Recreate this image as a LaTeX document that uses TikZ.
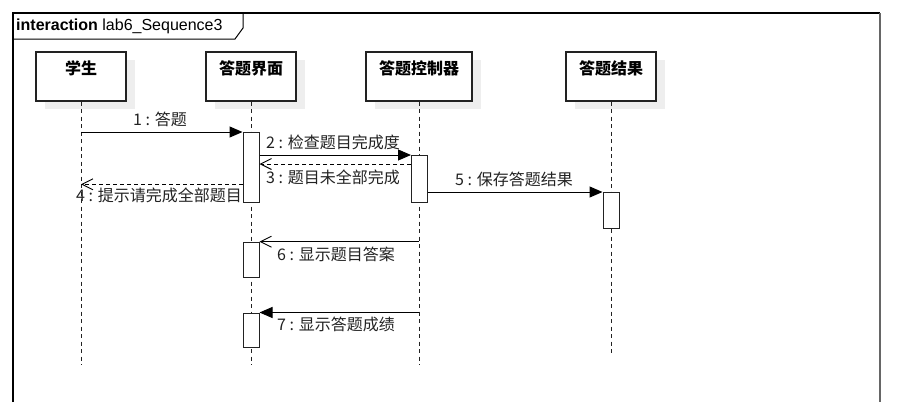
\documentclass[tikz,border=0pt]{standalone}
\usepackage{fontspec}
\newfontfamily\cjk{Noto Sans CJK SC}
\newfontfamily\arialf{Liberation Sans}
\usetikzlibrary{arrows.meta}
\definecolor{ink}{HTML}{222222}
\definecolor{shade}{HTML}{EEEEEE}
\definecolor{edge}{HTML}{666666}
\tikzset{
  lifebox/.style={draw=ink, line width=1.1pt, fill=white, minimum height=49pt, inner sep=0pt},
  shadowbox/.style={fill=shade, draw=none, minimum height=49pt, inner sep=0pt},
  headtext/.style={font=\cjk\bfseries\fontsize{16}{19}\selectfont, text=black, inner sep=0pt, anchor=center},
  lifeline/.style={draw=ink, line width=1pt, dash pattern=on 4pt off 3.5pt},
  actbox/.style={draw=ink, line width=1pt, fill=white, minimum width=16pt, inner sep=0pt, anchor=north},
  syncmsg/.style={draw=black, line width=1pt, -{Triangle[length=13pt,width=11pt]}},
  replymsg/.style={draw=black, line width=1pt, dash pattern=on 4pt off 3pt, -{Straight Barb[length=11pt,width=11pt,line width=0.9pt]}},
  openmsg/.style={draw=black, line width=1pt, -{Straight Barb[length=11pt,width=11pt,line width=0.9pt]}},
  msglabel/.style={font=\cjk\fontsize{16}{19}\selectfont, text=ink, inner sep=0pt, anchor=west},
}
\begin{document}
\begin{tikzpicture}[x=1pt,y=-1pt]
\useasboundingbox (0,0) rectangle (907,402);
% frame
\draw[black, line width=1.1pt] (13,402) -- (13,13) -- (880,13);
\draw[edge, line width=2.4pt] (880,13) -- (880,402);
\draw[black, line width=1pt] (13,13) -- (243,13) -- (243,28) -- (235,39) -- (13,39);
\node[font=\arialf\fontsize{16}{19}\selectfont, anchor=west, inner sep=0pt] (title) at (16,26) {\textbf{interaction} lab6\_Sequence3};
% shadows
\node[shadowbox, minimum width=90pt] at (90,84.5) {};
\node[shadowbox, minimum width=90pt] at (260,84.5) {};
\node[shadowbox, minimum width=106pt] at (428,84.5) {};
\node[shadowbox, minimum width=90pt] at (620,84.5) {};
% lifeline heads
\node[lifebox, minimum width=90pt] (stu) at (81,76.5) {};
\node[lifebox, minimum width=90pt] (ui) at (251,76.5) {};
\node[lifebox, minimum width=106pt] (ctl) at (419,76.5) {};
\node[lifebox, minimum width=90pt] (res) at (611,76.5) {};
\node[headtext] (stut) at (81,68) {学生};
\node[headtext] (uit) at (251,68) {答题界面};
\node[headtext] (ctlt) at (419,68) {答题控制器};
\node[headtext] (rest) at (611,68) {答题结果};
% lifeline ends
\coordinate (stuend) at (81,365);
\coordinate (uiend) at (251,365);
\coordinate (ctlend) at (419,365);
\coordinate (resend) at (611,353);
\draw[lifeline] (stu.south) -- (stuend);
\draw[lifeline] (ui.south) -- (uiend);
\draw[lifeline] (ctl.south) -- (ctlend);
\draw[lifeline] (res.south) -- (resend);
% activations
\node[actbox, minimum height=70pt] (a1) at (251,132) {};
\node[actbox, minimum height=47pt] (ca) at (419.5,155) {};
\node[actbox, minimum height=35.5pt] (ra) at (611,192) {};
\node[actbox, minimum height=35.5pt] (a2) at (251,241.7) {};
\node[actbox, minimum height=34.5pt] (a3) at (251,312.5) {};
% messages
\coordinate (y3) at (0,164);
\coordinate (y4) at (0,184.3);
\draw[syncmsg] (stu.south |- a1.north) -- (a1.north west);
\draw[syncmsg] (a1.east |- ca.north) -- (ca.north west);
\draw[replymsg] (ca.west |- y3) -- (a1.east |- y3);
\draw[replymsg] (a1.west |- y4) -- (stu.south |- y4);
\draw[syncmsg] (ca.east |- ra.north) -- (ra.north west);
\draw[openmsg] (ctl.south |- a2.north) -- (a2.north east);
\draw[syncmsg] (ctl.south |- a3.north) -- (a3.north east);
% labels
\node[msglabel] (l1) at (133,119) {1 : 答题};
\node[msglabel] (l2) at (266,142) {2 : 检查题目完成度};
\node[msglabel] (l3) at (266,177) {3 : 题目未全部完成};
\node[msglabel] (l4) at (76,195.5) {4 : 提示请完成全部题目};
\node[msglabel] (l5) at (455,179) {5 : 保存答题结果};
\node[msglabel] (l6) at (277,254) {6 : 显示题目答案};
\node[msglabel] (l7) at (277,324) {7 : 显示答题成绩};
\end{tikzpicture}
\end{document}
